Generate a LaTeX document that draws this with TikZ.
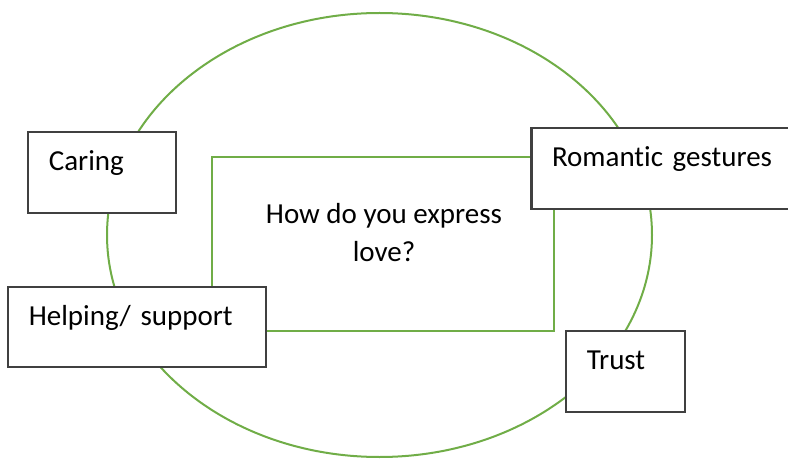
\documentclass[tikz,border=0pt]{standalone}
\usepackage{fontspec}
\setmainfont[Ligatures={NoCommon}]{Carlito}
\definecolor{loveGreen}{HTML}{70AD47}
\definecolor{boxGray}{HTML}{404040}

\begin{document}
\begin{tikzpicture}[
    x = 0.5pt,
    y = -0.5pt,
    item/.style = {draw=boxGray, line width=1.3pt, fill=white,
      inner xsep=10.4pt, align=left, text height=10pt, text depth=11.7pt,
      font=\fontsize{14.5pt}{19pt}\selectfont},
    ]
    \useasboundingbox (0,0) rectangle (788,460);
    % outer ring
    \draw[loveGreen, line width=1pt] (379.5,235) ellipse [x radius=272.5, y radius=222];
    % question frame
    \node[draw=loveGreen, line width=1pt, minimum width=171pt, minimum height=87pt,
      inner sep=0pt] (frame) at (383,244) {};
    \node[align=center, inner sep=0pt, font=\fontsize{14.5pt}{19pt}\selectfont]
      (question) at (384,233) {How do you express\\love?};
    % answer boxes
    \node[item, text width=53.2pt, minimum height=40.5pt] (caring) at (102,172.5) {Caring};
    \node[item, text width=130pt, minimum height=40.5pt] (romantic) at (682,168.5) {Romantic gestures};
    \node[item, text width=108.2pt, minimum height=40pt] (helping) at (137,327) {Helping/ support};
    \node[item, text width=38.7pt, minimum height=40.5pt] (trust) at (625.5,371.5) {Trust};
  \end{tikzpicture}
\end{document}
